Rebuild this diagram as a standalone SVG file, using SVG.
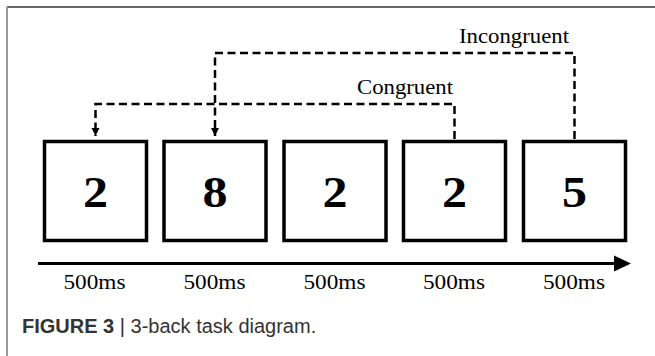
<svg xmlns="http://www.w3.org/2000/svg" width="655" height="356" viewBox="0 0 655 356">
  <style>
    .frame-top { stroke: #333; stroke-width: 1.6; }
    .frame-left { stroke: #999; stroke-width: 2; }
    .box { fill: #fff; stroke: #000; stroke-width: 3.5; }
    .digit { font-family: "Liberation Serif", "Times New Roman", serif; font-weight: bold; font-size: 44px; fill: #000; text-anchor: middle; }
    .label { font-family: "Liberation Serif", "Times New Roman", serif; font-size: 21px; fill: #000; }
    .time { font-family: "Liberation Serif", "Times New Roman", serif; font-size: 22px; fill: #000; text-anchor: middle; }
    .dash { fill: none; stroke: #000; stroke-width: 2.5; stroke-dasharray: 8 4.5; }
    .axis { stroke: #000; stroke-width: 3.2; }
    .cap { font-family: "Liberation Sans", Arial, sans-serif; font-size: 20px; fill: #333; }
  </style>
  <defs>
    <marker id="tip" viewBox="0 0 10 10" refX="10" refY="5" markerWidth="3.4" markerHeight="3.4" orient="auto" markerUnits="strokeWidth">
      <path d="M0,0 L10,5 L0,10 Z" fill="#000"/>
    </marker>
  </defs>

  <rect width="655" height="356" fill="#fff"/>

  <!-- page frame -->
  <line class="frame-top" x1="7" y1="7" x2="655" y2="7"/>
  <line class="frame-left" x1="7" y1="7" x2="7" y2="356"/>

  <!-- stimulus boxes -->
  <g id="box1">
    <rect class="box" x="44.5" y="141.5" width="102" height="99"/>
    <text class="digit" x="95.5" y="207" textLength="25" lengthAdjust="spacingAndGlyphs">2</text>
  </g>
  <g id="box2">
    <rect class="box" x="164" y="141.5" width="102" height="99"/>
    <text class="digit" x="215" y="207" textLength="25" lengthAdjust="spacingAndGlyphs">8</text>
  </g>
  <g id="box3">
    <rect class="box" x="284" y="141.5" width="102" height="99"/>
    <text class="digit" x="335" y="207" textLength="25" lengthAdjust="spacingAndGlyphs">2</text>
  </g>
  <g id="box4">
    <rect class="box" x="403.5" y="141.5" width="102" height="99"/>
    <text class="digit" x="454.5" y="207" textLength="25" lengthAdjust="spacingAndGlyphs">2</text>
  </g>
  <g id="box5">
    <rect class="box" x="523.5" y="141.5" width="102" height="99"/>
    <text class="digit" x="574.5" y="207" textLength="25" lengthAdjust="spacingAndGlyphs">5</text>
  </g>

  <!-- n-back links -->
  <g id="connectors">
    <path class="dash" d="M454.5,139 V104 H95.5 V136" marker-end="url(#tip)"/>
    <path class="dash" d="M574.5,139 V53 H215 V136" marker-end="url(#tip)"/>
    <line class="axis" x1="38" y1="263.5" x2="618" y2="263.5"/>
    <path d="M614,255.5 L631,263.5 L614,271.5 Z" fill="#000"/>
  </g>

  <text class="label" x="459" y="43" textLength="110" lengthAdjust="spacingAndGlyphs">Incongruent</text>
  <text class="label" x="357" y="94" textLength="96" lengthAdjust="spacingAndGlyphs">Congruent</text>

  <!-- timeline labels -->
  <text class="time" x="94.5" y="289" textLength="62" lengthAdjust="spacingAndGlyphs">500ms</text>
  <text class="time" x="214.5" y="289" textLength="62" lengthAdjust="spacingAndGlyphs">500ms</text>
  <text class="time" x="334.5" y="289" textLength="62" lengthAdjust="spacingAndGlyphs">500ms</text>
  <text class="time" x="454" y="289" textLength="62" lengthAdjust="spacingAndGlyphs">500ms</text>
  <text class="time" x="574" y="289" textLength="62" lengthAdjust="spacingAndGlyphs">500ms</text>

  <!-- caption -->
  <text class="cap" x="22" y="333"><tspan font-weight="bold">FIGURE 3</tspan> | 3-back task diagram.</text>
</svg>
